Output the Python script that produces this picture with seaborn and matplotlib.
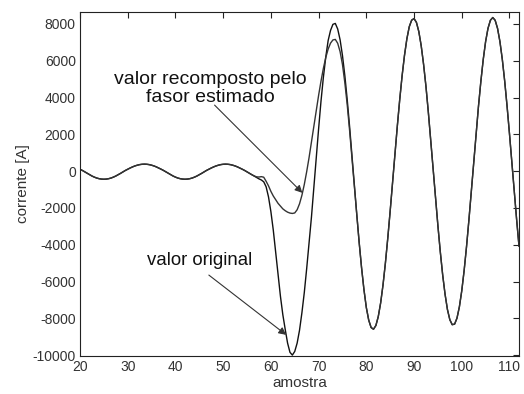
import matplotlib
matplotlib.use("Agg")
import matplotlib.pyplot as plt
import seaborn as sns
import pandas as pd
import numpy as np

sns.set_style("white")
plt.rcParams['font.family'] = ['Liberation Sans', 'DejaVu Sans']
plt.rcParams['axes.unicode_minus'] = False

# samples 20 .. 112 in half-sample steps
amostra = np.arange(20, 112.01, 0.5)

valor_original = [
    100, 37, -40, -120, -195, -265, -325, -375, -410, -432,
    -440, -432, -410, -375, -325, -265, -195, -120, -40, 37,
    105, 170, 230, 282, 323, 355, 373, 380, 373, 355,
    323, 282, 230, 170, 105, 37, -40, -120, -195, -265,
    -325, -375, -410, -432, -440, -432, -410, -375, -325, -265,
    -195, -120, -40, 37, 105, 170, 230, 282, 323, 355,
    373, 380, 373, 355, 323, 282, 230, 170, 105, 37,
    -40, -120, -195, -270, -350, -420, -480, -580, -850, -1400,
    -2200, -3200, -4400, -5600, -6800, -7800, -8600, -9350, -9850, -10000,
    -9800, -9350, -8650, -7700, -6600, -5300, -3900, -2500, -900, 700,
    2300, 3800, 5100, 6200, 7100, 7650, 7980, 8030, 7726, 7145,
    6287, 5182, 3872, 2406, 842, -769, -2361, -3875, -5244, -6436,
    -7413, -8098, -8499, -8594, -8393, -7911, -7165, -6181, -4989, -3631,
    -2160, -617, 940, 2461, 3892, 5188, 6296, 7196, 7852, 8207,
    8294, 8086, 7588, 6817, 5803, 4598, 3192, 1687, 123, -1447,
    -2966, -4381, -5641, -6691, -7524, -8077, -8346, -8316, -7990, -7378,
    -6504, -5396, -4101, -2653, -1115, 465, 2027, 3517, 4872, 6068,
    7047, 7764, 8200, 8350, 8200, 7759, 7040, 6070, 4887, 3520,
    2034, 473, -1103, -2640, -4086,
]

valor_recomposto = [
    100, 37, -40, -120, -195, -265, -325, -375, -410, -432,
    -440, -432, -410, -375, -325, -265, -195, -120, -40, 37,
    105, 170, 230, 282, 323, 355, 373, 380, 373, 355,
    323, 282, 230, 170, 105, 37, -40, -120, -195, -265,
    -325, -375, -410, -432, -440, -432, -410, -375, -325, -265,
    -195, -120, -40, 37, 105, 170, 230, 282, 323, 355,
    373, 380, 373, 355, 323, 282, 230, 170, 105, 37,
    -40, -120, -195, -260, -310, -320, -300, -330, -550, -800,
    -1100, -1350, -1550, -1750, -1900, -2050, -2150, -2230, -2280, -2300,
    -2272, -2099, -1776, -1314, -726, -32, 736, 1571, 2430, 3289,
    4120, 4892, 5586, 6174, 6636, 6959, 7132, 7160, 6950, 6500,
    5800, 4800, 3600, 2200, 700, -800, -2361, -3875, -5244, -6436,
    -7413, -8098, -8499, -8594, -8393, -7911, -7165, -6181, -4989, -3631,
    -2160, -617, 940, 2461, 3892, 5188, 6296, 7196, 7852, 8207,
    8294, 8086, 7588, 6817, 5803, 4598, 3192, 1687, 123, -1447,
    -2966, -4381, -5641, -6691, -7524, -8077, -8346, -8316, -7990, -7378,
    -6504, -5396, -4101, -2653, -1115, 465, 2027, 3517, 4872, 6068,
    7047, 7764, 8200, 8350, 8200, 7759, 7040, 6070, 4887, 3520,
    2034, 473, -1103, -2640, -4086,
]

assert len(valor_original) == len(amostra) == len(valor_recomposto)

df = pd.DataFrame({
    "amostra": np.concatenate([amostra, amostra]),
    "corrente": valor_original + valor_recomposto,
    "serie": ["original"] * len(amostra) + ["recomposto"] * len(amostra),
})

fig = plt.figure(figsize=(5.24, 3.94), dpi=100)
ax = fig.add_axes([0.1527, 0.0964, 0.8378, 0.8731])
sns.lineplot(data=df, x="amostra", y="corrente", hue="serie",
             palette={"original": "#111111", "recomposto": "#333333"},
             linewidth=1.0, legend=False, ax=ax, estimator=None, sort=False)

ax.set_xlim(20, 112)
ax.set_ylim(-10050, 8650)
ax.set_xticks(range(20, 111, 10))
ax.set_yticks(range(-10000, 8001, 2000))
ax.tick_params(direction="in", top=True, right=True, length=4, width=0.8,
               labelsize=10, colors="#222222", labelcolor="#333333", pad=3)
for s in ax.spines.values():
    s.set_color("#222222")
    s.set_linewidth(0.8)
ax.set_xlabel("amostra", fontsize=11, color="#333333", labelpad=1)
ax.set_ylabel("corrente [A]", fontsize=11, color="#333333", labelpad=2)

arrow = dict(arrowstyle="-|>", color="#333333", lw=0.8, mutation_scale=11,
             shrinkA=0, shrinkB=0)
ax.text(47.4, 4500, "valor recomposto pelo\nfasor estimado", ha="center",
        va="center", fontsize=14, color="#111111", linespacing=1.05)
ax.annotate("", xy=(66.6, -1180), xytext=(48.2, 3590), arrowprops=arrow)
ax.text(45.1, -4875, "valor original", ha="center", va="center",
        fontsize=13.4, color="#111111")
ax.annotate("", xy=(63.2, -8900), xytext=(47.0, -5650), arrowprops=arrow)

fig.savefig("out.png", dpi=100, facecolor="white")
